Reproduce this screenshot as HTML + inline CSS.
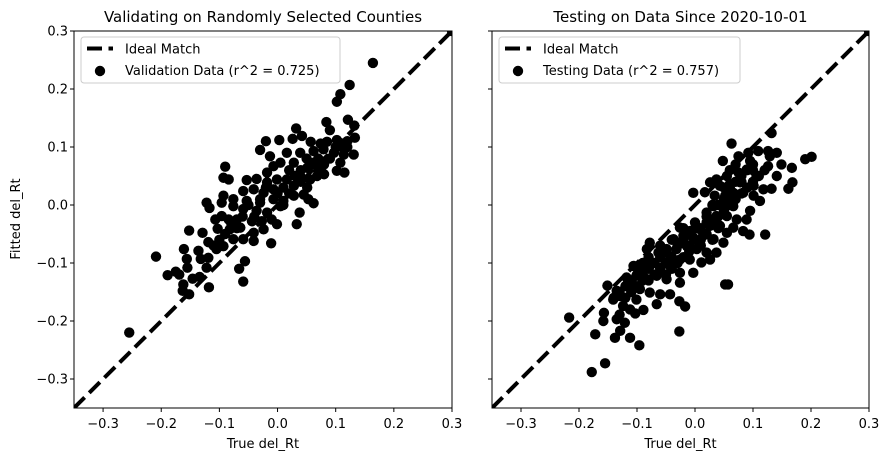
<!DOCTYPE html>
<html><head><meta charset="utf-8"><style>
body{margin:0;background:#fff;}
svg{display:block;font-family:"DejaVu Sans","Liberation Sans",sans-serif;}
</style></head><body>
<svg id="chart" width="889" height="462" viewBox="0 0 889 462"></svg>
<script>
const xTicks=[-0.3,-0.2,-0.1,0.0,0.1,0.2,0.3];
const yTicks=[-0.3,-0.2,-0.1,0.0,0.1,0.2,0.3];
const xDomain=[-0.35,0.3];
const yDomain=[-0.35,0.3];
const valX=[0.164,0.124,0.108,0.102,0.121,0.132,0.084,0.090,0.032,0.133,0.120,0.102,0.085,0.074,0.057,0.042,0.026,0.003,-0.020,-0.030,-0.013,0.016,0.039,0.062,0.079,0.097,0.114,0.131,0.108,0.102,0.115,0.080,0.062,0.051,0.028,0.005,-0.007,-0.018,-0.090,-0.093,-0.084,-0.053,-0.036,-0.018,-0.001,0.016,0.039,0.056,0.068,-0.059,-0.041,-0.024,-0.007,0.010,0.028,0.051,-0.093,-0.076,-0.053,-0.030,-0.007,0.010,0.028,0.045,0.062,0.053,-0.122,-0.117,-0.096,-0.076,-0.059,-0.036,-0.018,0.005,-0.107,-0.096,-0.084,-0.070,-0.044,-0.027,-0.010,-0.001,0.033,0.038,-0.152,-0.129,-0.103,-0.082,-0.064,-0.041,-0.024,-0.119,-0.105,-0.093,-0.076,-0.059,-0.041,-0.011,-0.161,-0.156,-0.136,-0.132,-0.119,-0.122,-0.209,-0.189,-0.175,-0.169,-0.155,-0.146,-0.134,-0.162,-0.163,-0.152,-0.118,-0.066,-0.056,-0.059,-0.255,0.3,
0.06,0.07,0.05,0.08,0.09,0.04,0.03,0.02,0.0,-0.02,-0.03,-0.05,-0.06,-0.07,-0.08,-0.09,-0.04,0.01,0.02,0.04,0.07,0.10,0.11,0.12,-0.10,-0.11];
const valY=[0.245,0.207,0.191,0.178,0.147,0.137,0.143,0.129,0.132,0.116,0.110,0.112,0.109,0.106,0.109,0.119,0.114,0.112,0.110,0.095,0.084,0.090,0.090,0.093,0.096,0.090,0.087,0.087,0.073,0.059,0.056,0.053,0.073,0.064,0.073,0.073,0.067,0.056,0.066,0.047,0.044,0.043,0.045,0.039,0.044,0.044,0.050,0.044,0.050,0.024,0.027,0.021,0.027,0.030,0.033,0.030,0.016,0.010,0.007,0.004,0.010,0.007,0.016,0.018,0.003,0.010,0.004,-0.005,0.004,-0.002,-0.007,-0.010,-0.013,-0.002,-0.025,-0.019,-0.025,-0.025,-0.028,-0.028,-0.025,-0.033,-0.033,-0.013,-0.044,-0.048,-0.041,-0.042,-0.039,-0.048,-0.042,-0.064,-0.076,-0.071,-0.059,-0.059,-0.062,-0.066,-0.076,-0.093,-0.079,-0.093,-0.091,-0.108,-0.089,-0.121,-0.115,-0.120,-0.108,-0.127,-0.124,-0.137,-0.148,-0.154,-0.142,-0.110,-0.097,-0.132,-0.220,0.3,
0.07,0.08,0.08,0.07,0.08,0.06,0.05,0.06,0.02,0.03,0.01,0.0,-0.02,-0.04,-0.03,-0.05,-0.02,0.0,0.02,0.04,0.06,0.10,0.10,0.10,-0.06,-0.07];
const testX=[0.132,0.063,0.048,0.075,0.092,0.109,0.126,0.141,0.129,0.095,0.190,0.201,0.126,0.149,0.167,0.075,0.055,0.089,0.106,0.141,-0.003,0.026,0.017,0.037,0.043,0.060,0.078,0.101,0.118,0.132,0.161,0.168,0.034,0.052,0.066,0.083,0.101,0.112,0.032,0.049,0.066,0.095,0.020,0.037,0.055,0.072,0.089,0.083,0.094,0.121,0.066,-0.026,-0.009,0.009,0.026,0.043,0.055,-0.037,-0.020,-0.003,0.014,0.032,0.049,-0.049,-0.032,-0.014,0.003,0.020,0.037,-0.083,-0.078,-0.063,-0.043,-0.026,-0.009,0.011,0.026,-0.003,-0.106,-0.095,-0.078,-0.060,-0.043,-0.026,-0.118,-0.101,-0.083,-0.066,-0.049,-0.026,0.052,0.057,-0.151,-0.135,-0.112,-0.095,-0.078,-0.060,-0.043,-0.141,-0.129,-0.101,-0.066,-0.027,-0.017,-0.124,-0.112,-0.089,-0.130,-0.103,-0.157,-0.158,-0.135,-0.121,-0.217,-0.172,-0.138,-0.129,-0.112,-0.096,-0.027,-0.155,-0.178,-0.08,-0.06,-0.04,-0.02,0.0,0.02,0.04,0.06,0.08,0.10,0.05,0.03,-0.05,-0.09,0.01,-0.01,0.3,
-0.12,-0.11,-0.10,-0.10,-0.09,-0.09,-0.08,-0.08,-0.07,-0.07,-0.06,-0.06,-0.05,-0.05,-0.04,-0.04,-0.03,-0.03,-0.02,-0.02,-0.01,-0.01,0.0,0.0,0.01,0.01,0.02,0.02,0.03,0.03,0.04,0.04,0.05,0.05,0.06,0.06,0.07,0.07,0.08,0.08,0.09,0.09,0.10,0.11,0.12,0.06,0.07,0.10,-0.13,-0.12,-0.11,-0.14];
const testY=[0.124,0.106,0.076,0.084,0.090,0.093,0.093,0.090,0.084,0.076,0.079,0.083,0.067,0.070,0.064,0.056,0.050,0.061,0.050,0.050,0.021,0.039,0.022,0.044,0.033,0.036,0.039,0.033,0.027,0.028,0.028,0.039,0.016,0.016,0.021,0.021,0.016,0.007,-0.002,-0.002,-0.002,-0.010,-0.013,-0.019,-0.019,-0.025,-0.025,-0.045,-0.051,-0.051,-0.039,-0.039,-0.045,-0.042,-0.036,-0.036,-0.048,-0.059,-0.053,-0.056,-0.053,-0.059,-0.065,-0.076,-0.076,-0.071,-0.076,-0.082,-0.082,-0.076,-0.065,-0.082,-0.088,-0.094,-0.094,-0.099,-0.094,-0.117,-0.105,-0.111,-0.105,-0.108,-0.105,-0.117,-0.125,-0.122,-0.128,-0.122,-0.128,-0.134,-0.137,-0.137,-0.139,-0.148,-0.140,-0.145,-0.151,-0.154,-0.154,-0.163,-0.157,-0.163,-0.171,-0.166,-0.175,-0.174,-0.180,-0.181,-0.189,-0.187,-0.186,-0.200,-0.197,-0.203,-0.194,-0.223,-0.229,-0.217,-0.229,-0.242,-0.218,-0.273,-0.288,-0.09,-0.07,-0.06,-0.04,-0.03,-0.02,0.0,0.01,0.04,0.06,0.03,0.0,-0.10,-0.12,-0.06,-0.08,0.3,
-0.14,-0.13,-0.12,-0.14,-0.13,-0.10,-0.11,-0.13,-0.10,-0.12,-0.09,-0.11,-0.08,-0.12,-0.09,-0.11,-0.07,-0.10,-0.06,-0.09,-0.05,-0.07,-0.06,-0.04,-0.04,-0.07,-0.05,-0.03,-0.03,-0.06,-0.02,-0.04,-0.01,0.01,0.0,0.03,0.01,0.04,0.02,0.05,0.03,0.06,0.04,0.05,0.06,0.06,0.07,0.07,-0.15,-0.16,-0.15,-0.16];

const NS="http://www.w3.org/2000/svg";
const svg=document.getElementById('chart');
function mk(tag,attrs,parent){const e=document.createElementNS(NS,tag);for(const k in attrs)e.setAttribute(k,attrs[k]);(parent||svg).appendChild(e);return e;}

const panels=[
 {left:74,right:452,top:31,bottom:408,title:"Validating on Randomly Selected Counties",xs:valX,ys:valY,label:"Validation Data (r^2 = 0.725)",legW:259,showY:true,id:"validation"},
 {left:492,right:869,top:31,bottom:408,title:"Testing on Data Since 2020-10-01",xs:testX,ys:testY,label:"Testing Data (r^2 = 0.757)",legW:241,showY:false,id:"testing"}
];

panels.forEach((p,pi)=>{
  const sx=v=>p.left+(v-xDomain[0])/(xDomain[1]-xDomain[0])*(p.right-p.left);
  const sy=v=>p.bottom-(v-yDomain[0])/(yDomain[1]-yDomain[0])*(p.bottom-p.top);
  const g=mk('g',{});
  
  
  const cid='clip'+pi;
  const cp=mk('clipPath',{id:cid},g);
  mk('rect',{x:p.left,y:p.top,width:p.right-p.left,height:p.bottom-p.top},cp);
  const plot=mk('g',{'clip-path':'url(#'+cid+')'},g);
  const ln=mk('line',{x1:sx(xDomain[0]),y1:sy(yDomain[0]),x2:sx(xDomain[1]),y2:sy(yDomain[1]),stroke:'#000','stroke-width':4,'stroke-dasharray':'15,6.5'},plot);
  
  
  for(let i=0;i<p.xs.length;i++){
    const c=mk('circle',{cx:sx(p.xs[i]),cy:sy(p.ys[i]),r:5.2,fill:'#000'},plot);
    
    
  }
  const fr=mk('rect',{x:p.left,y:p.top,width:p.right-p.left,height:p.bottom-p.top,fill:'none',stroke:'#000','stroke-width':1},g);
  
  
  xTicks.forEach(t=>{
    const x=sx(t);
    mk('line',{x1:x,y1:p.bottom,x2:x,y2:p.bottom+4,stroke:'#000'},g);
    const tx=mk('text',{x:x,y:428,'font-size':13,'text-anchor':'middle'},g);
    tx.textContent=(t<0?'\u2212':'')+Math.abs(t).toFixed(1);
    
    
  });
  yTicks.forEach(t=>{
    const y=sy(t);
    mk('line',{x1:p.left-4,y1:y,x2:p.left,y2:y,stroke:'#000'},g);
    if(p.showY){
      const ty=mk('text',{x:p.left-6,y:y+4.5,'font-size':13,'text-anchor':'end'},g);
      ty.textContent=(t<0?'\u2212':'')+Math.abs(t).toFixed(1);
      
      
    }
  });
  const xl=mk('text',{x:(p.left+p.right)/2,y:448,'font-size':13,'text-anchor':'middle'},g);
  xl.textContent='True del_Rt';
  
  
  const tt=mk('text',{x:(p.left+p.right)/2,y:22,'font-size':15,'text-anchor':'middle'},g);
  tt.textContent=p.title;
  
  
  const lg=mk('g',{},g);
  
  
  const lx=p.left+7;
  mk('rect',{x:lx,y:37,width:p.legW,height:46,rx:3,fill:'#fff','fill-opacity':0.85,stroke:'#ccc'},lg);
  mk('line',{x1:lx+6,y1:48.5,x2:lx+32,y2:48.5,stroke:'#000','stroke-width':4,'stroke-dasharray':'15,6.5'},lg);
  const t1=mk('text',{x:lx+44,y:53.5,'font-size':13},lg);
  t1.textContent='Ideal Match';
  
  
  mk('circle',{cx:lx+19,cy:71,r:5.2,fill:'#000'},lg);
  const t2=mk('text',{x:lx+44,y:75,'font-size':13},lg);
  t2.textContent=p.label;
  
  
});
const yl=mk('text',{x:0,y:0,'font-size':13,'text-anchor':'middle',transform:'translate(20,219) rotate(-90)'});
yl.textContent='Fitted del_Rt';


</script>
</body></html>
